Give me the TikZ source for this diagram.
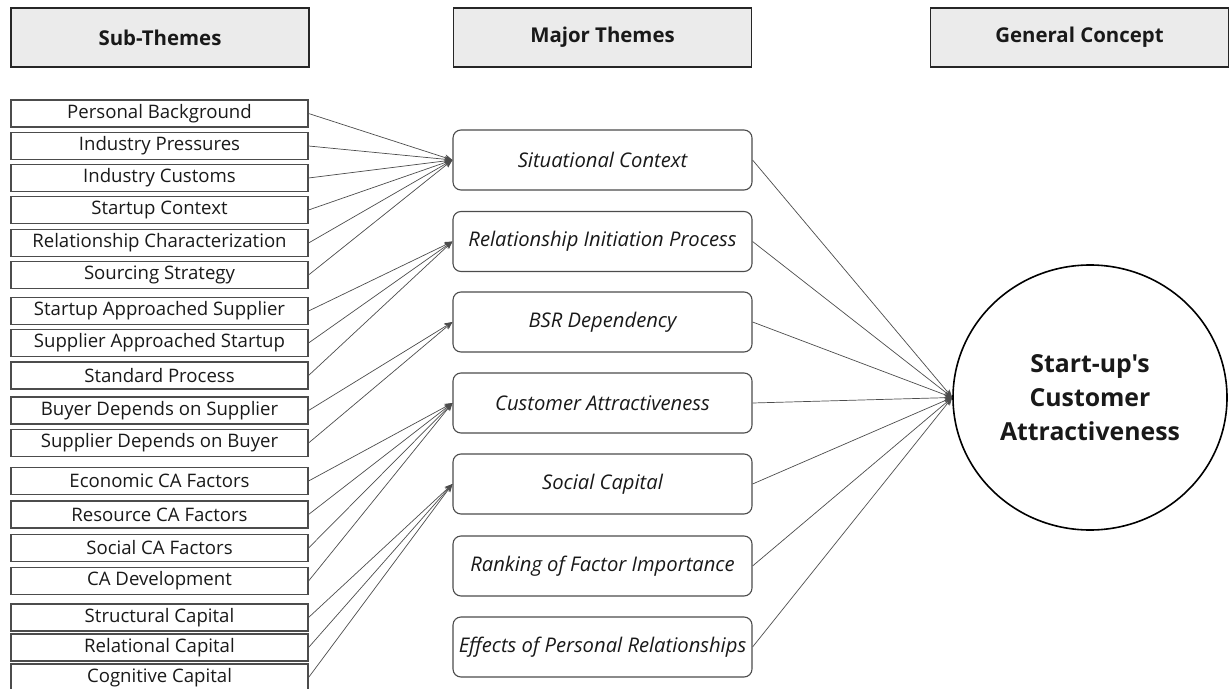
\documentclass[tikz,border=0pt]{standalone}
\usepackage{fontspec}
\setmainfont{Open Sans}[Ligatures=TeXOff]
\usepackage{tikz}
\usetikzlibrary{arrows.meta,positioning,shapes.geometric}

\begin{document}
\begin{tikzpicture}[x=0.5pt,y=-0.5pt,
			head/.style={rectangle,draw=black!85,fill=black!8,line width=0.75pt,minimum width=149pt,minimum height=29.5pt,inner sep=0pt,font=\bfseries\fontsize{10.2}{12}\selectfont,text=black!90},
			sub/.style={rectangle,draw=black!70,line width=0.55pt,minimum width=148.5pt,minimum height=13.5pt,inner sep=0pt,font=\fontsize{9.3}{11}\selectfont,text=black!90},
			major/.style={rectangle,rounded corners=4pt,draw=black!70,line width=0.55pt,minimum width=149.5pt,minimum height=30pt,inner sep=0pt,font=\itshape\fontsize{10.1}{12}\selectfont,text=black!90},
			concept/.style={ellipse,draw=black,line width=0.8pt,minimum width=137pt,minimum height=132.5pt,inner sep=0pt,align=center,font=\bfseries\fontsize{12.4}{17}\selectfont,text=black!90},
			arr/.style={draw=black!70,line width=0.35pt,-{Stealth[length=4pt,width=3.2pt]}}]
		\useasboundingbox (0,0) rectangle (1229,689);
		\clip (0,0) rectangle (1229,689);
		% column headings
		\path 	(160,37.5) 	node 	(h1) [head] {Sub-Themes}
		        (602.5,37.5) node 	(h2) [head] {Major Themes}
		        (1079.5,37.5) node 	(h3) [head] {General Concept};
		% sub-themes
		\path 	(159.5,113.5) node (s1) [sub] {Personal Background}
		        (159.5,146) node (s2) [sub] {Industry Pressures}
		        (159.5,178) node (s3) [sub] {Industry Customs}
		        (159.5,210) node (s4) [sub] {Startup Context}
		        (159.5,243) node (s5) [sub] {Relationship Characterization}
		        (159.5,275) node (s6) [sub] {Sourcing Strategy}
		        (159.5,311) node (s7) [sub] {Startup Approached Supplier}
		        (159.5,343) node (s8) [sub] {Supplier Approached Startup}
		        (159.5,375.5) node (s9) [sub] {Standard Process}
		        (159.5,410.5) node (s10) [sub] {Buyer Depends on Supplier}
		        (159.5,443) node (s11) [sub] {Supplier Depends on Buyer}
		        (159.5,481) node (s12) [sub] {Economic CA Factors}
		        (159.5,514.5) node (s13) [sub] {Resource CA Factors}
		        (159.5,548) node (s14) [sub] {Social CA Factors}
		        (159.5,581) node (s15) [sub] {CA Development}
		        (159.5,617.5) node (s16) [sub] {Structural Capital}
		        (159.5,647.5) node (s17) [sub] {Relational Capital}
		        (159.5,677.5) node (s18) [sub] {Cognitive Capital};
		% major themes
		\path 	(602.5,160) node (m1) [major] {Situational Context}
		        (602.5,241.5) node (m2) [major] {Relationship Initiation Process}
		        (602.5,322) node (m3) [major] {BSR Dependency}
		        (602.5,403) node (m4) [major] {Customer Attractiveness}
		        (602.5,484) node (m5) [major] {Social Capital}
		        (602.5,566) node (m6) [major] {Ranking of Factor Importance}
		        (602.5,647) node (m7) [major] {Effects of Personal Relationships};
		% general concept
		\path 	(1090,397.5) node (c) [concept] {Start-up's\\Customer\\Attractiveness};
		% sub-themes to major themes
		\draw [arr] (s1.east) -- (m1.west); \draw [arr] (s2.east) -- (m1.west);
		\draw [arr] (s3.east) -- (m1.west); \draw [arr] (s4.east) -- (m1.west);
		\draw [arr] (s5.east) -- (m1.west); \draw [arr] (s6.east) -- (m1.west);
		\draw [arr] (s7.east) -- (m2.west); \draw [arr] (s8.east) -- (m2.west);
		\draw [arr] (s9.east) -- (m2.west);
		\draw [arr] (s10.east) -- (m3.west); \draw [arr] (s11.east) -- (m3.west);
		\draw [arr] (s12.east) -- (m4.west); \draw [arr] (s13.east) -- (m4.west);
		\draw [arr] (s14.east) -- (m4.west); \draw [arr] (s15.east) -- (m4.west);
		\draw [arr] (s16.east) -- (m5.west); \draw [arr] (s17.east) -- (m5.west);
		\draw [arr] (s18.east) -- (m5.west);
		% major themes to the concept
		\draw [arr] (m1.east) -- (c.west); \draw [arr] (m2.east) -- (c.west);
		\draw [arr] (m3.east) -- (c.west); \draw [arr] (m4.east) -- (c.west);
		\draw [arr] (m5.east) -- (c.west); \draw [arr] (m6.east) -- (c.west);
		\draw [arr] (m7.east) -- (c.west);
	\end{tikzpicture}
\end{document}
